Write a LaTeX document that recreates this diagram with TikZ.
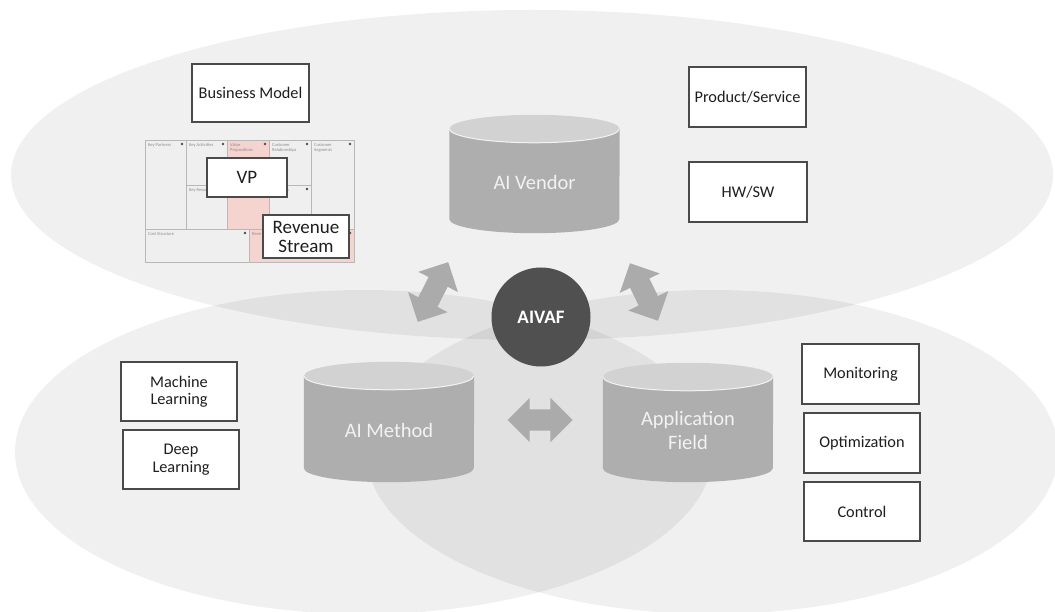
\documentclass[tikz,border=0pt]{standalone}
\usepackage{fontspec}
\setmainfont{Carlito}
\usetikzlibrary{shapes.arrows}

\definecolor{drumbody}{HTML}{AEAEAE}
\definecolor{drumcap}{HTML}{D2D2D2}
\definecolor{hubgray}{HTML}{505050}
\definecolor{arrowgray}{HTML}{ABABAB}
\definecolor{boxline}{HTML}{4A4A4A}
\definecolor{boxtext}{HTML}{1E1E1E}
\definecolor{cellfill}{HTML}{EFEFEF}
\definecolor{cellline}{HTML}{B8B8B8}
\definecolor{cellpink}{HTML}{F5D3CE}
\definecolor{drumtext}{HTML}{F2F2F2}

% cylinder drawn inside the bounding rectangle of a named node
\newcommand\drumshape[1]{%
  \fill[drumbody] ([yshift=-14pt]#1.north west) -- ([yshift=14pt]#1.south west)
    arc[start angle=180, end angle=360, x radius=85pt, y radius=14pt]
    -- ([yshift=-14pt]#1.north east) -- cycle;
  \fill[drumcap] ([yshift=-14pt]#1.north) ellipse[x radius=85pt, y radius=14pt];
  \draw[white, line width=1pt, opacity=0.8] ([yshift=-14pt]#1.north west)
    arc[start angle=180, end angle=360, x radius=85pt, y radius=14pt];
}

\begin{document}
\begin{tikzpicture}[x=1pt, y=-1pt,
  zone/.style={fill=black, fill opacity=0.058},
  labelbox/.style={draw=boxline, line width=1.1pt, fill=white, text=boxtext,
    inner sep=0pt, align=center, font=\fontsize{16.3}{17.5}\selectfont},
  bigbox/.style={labelbox, font=\fontsize{19}{19}\selectfont},
  drumslot/.style={rectangle, inner sep=0pt, minimum width=170pt},
  drumlabel/.style={text=drumtext, align=center, font=\fontsize{20.5}{24.5}\selectfont},
  hub/.style={circle, fill=hubgray, minimum size=99pt, inner sep=0pt,
    text=white, font=\fontsize{19}{19}\selectfont\bfseries},
  blockarrow/.style={double arrow, fill=arrowgray, inner sep=0pt,
    text height=10.5pt, text depth=10.5pt, text width=0pt,
    double arrow head extend=11.5pt},
  cell/.style={fill=cellfill, draw=cellline, line width=0.6pt},
  pinkcell/.style={fill=cellpink, draw=cellline, line width=0.6pt},
  cellnote/.style={anchor=north west, inner sep=0pt, text=black!45, align=left,
    font=\fontsize{4.5}{5}\selectfont},
  cellicon/.style={fill=black!70},
]
\useasboundingbox (0,0) rectangle (1055,612);
\fill[white] (0,0) rectangle (1055,612);

% three overlapping zones
\fill[zone] (532,175) ellipse[x radius=521pt, y radius=165pt];
\fill[zone] (364,452) ellipse[x radius=349pt, y radius=162pt];
\fill[zone] (712,452) ellipse[x radius=346pt, y radius=162pt];

% business model canvas
\fill[white] (145,140) rectangle (354,262);
\path[cell] (145,140) rectangle (186,229);
\path[cell] (186,140) rectangle (227,185);
\path[cell] (186,185) rectangle (227,229);
\path[pinkcell] (227,140) rectangle (269,229);
\path[cell] (269,140) rectangle (311,185);
\path[cell] (269,185) rectangle (311,229);
\path[cell] (311,140) rectangle (354,229);
\path[cell] (145,229) rectangle (249,262);
\path[pinkcell] (249,229) rectangle (354,262);
\node[cellnote] (n1) at (148,143) {Key Partners};
\node[cellnote] (n2) at (189,143) {Key Activities};
\node[cellnote] (n3) at (230,143) {Value\\Propositions};
\node[cellnote] (n4) at (272,143) {Customer\\Relationships};
\node[cellnote] (n5) at (314,143) {Customer\\Segments};
\node[cellnote] (n7) at (272,188) {Channels};
\node[cellnote] (n8) at (148,232) {Cost Structure};
% cell captions that run under the overlaid boxes
\begin{scope}
  \clip (186,185) rectangle (207,229);
  \node[cellnote] (n6) at (189,188) {Key Resources};
\end{scope}
\begin{scope}
  \clip (249,229) rectangle (263,262);
  \node[cellnote] (n9) at (252,232) {Reve};
\end{scope}
\foreach \ix/\iy in {182/144, 223/144, 265/144, 307/144, 350/144, 223/189, 307/189, 245/233, 350/233}
  \fill[cellicon] (\ix,\iy) circle (1.4pt);

% text boxes
\node[labelbox, minimum width=117pt, minimum height=58pt] (bm) at (250.5,93) {Business Model};
\node[bigbox, minimum width=80pt, minimum height=39pt] (vp) at (247,177.5) {VP};
\node[bigbox, minimum width=86pt, minimum height=43pt] (rs) at (306,236.5) {Revenue\\Stream};
\node[labelbox, minimum width=117pt, minimum height=60pt] (ps) at (747.5,97) {Product/Service};
\node[labelbox, minimum width=118pt, minimum height=60pt] (hw) at (748,192) {HW/SW};
\node[labelbox, minimum width=116pt, minimum height=59pt] (ml) at (179,391.5) {Machine\\Learning};
\node[labelbox, minimum width=116pt, minimum height=59pt] (dl) at (181,459.5) {Deep\\Learning};
\node[labelbox, minimum width=117pt, minimum height=60pt] (mon) at (860.5,374) {Monitoring};
\node[labelbox, minimum width=116pt, minimum height=60pt] (opt) at (862,443) {Optimization};
\node[labelbox, minimum width=116pt, minimum height=59pt] (ctl) at (862,511.5) {Control};

% cylinders
\node[drumslot, minimum height=118pt] (vendor) at (534.5,174) {};
\node[drumslot, minimum height=120pt] (method) at (389,422) {};
\node[drumslot, minimum height=119pt] (field) at (688,422.5) {};
\drumshape{vendor}
\drumshape{method}
\drumshape{field}
\node[drumlabel] (vendor-t) at ([yshift=-8pt]vendor.center) {AI Vendor};
\node[drumlabel] (method-t) at ([yshift=-8pt]method.center) {AI Method};
\node[drumlabel] (field-t) at ([yshift=-8pt]field.center) {Application\\Field};

% block arrows
\node[blockarrow, minimum height=67pt, rotate=63] (arr-l) at (433,292) {};
\node[blockarrow, minimum height=64pt, rotate=-64] (arr-r) at (644,292) {};
\node[blockarrow, minimum height=65pt] (arr-m) at (540,420) {};

% hub
\node[hub] (aivaf) at (541,317) {AIVAF};
\end{tikzpicture}
\end{document}
